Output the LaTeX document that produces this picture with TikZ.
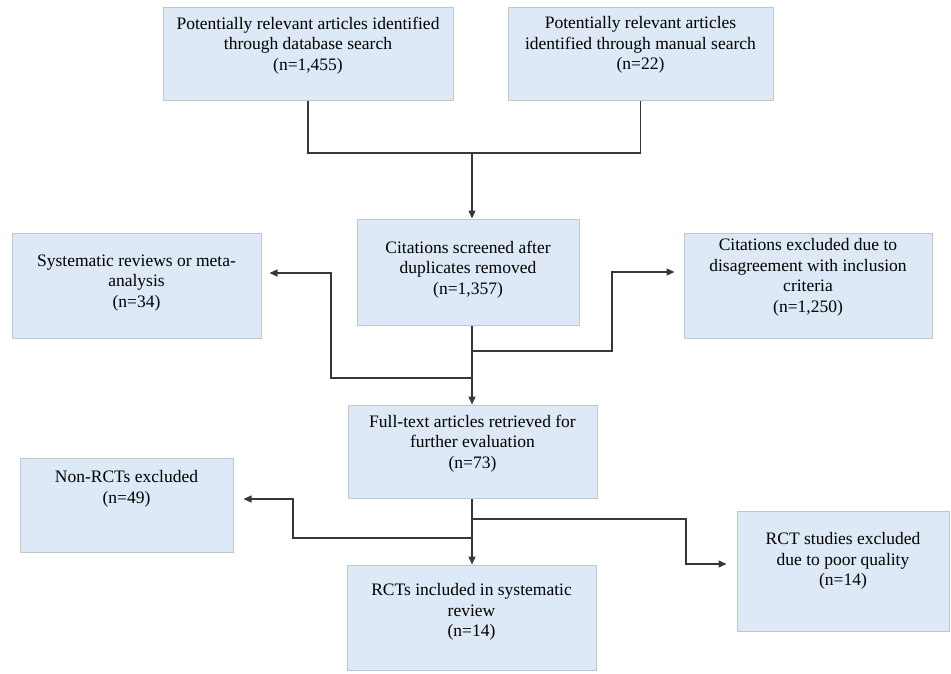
\documentclass[tikz,border=0pt]{standalone}
\usepackage{fontspec}
\setmainfont{Liberation Serif}
\usepackage{xcolor}
\usetikzlibrary{positioning,arrows.meta}
\definecolor{boxblue}{RGB}{221,233,246}
\definecolor{boxline}{RGB}{192,198,206}
\definecolor{flowline}{RGB}{55,55,55}
\begin{document}
\begin{tikzpicture}[x=1pt,y=-1pt,
                    box/.style={draw=boxline,fill=boxblue,line width=1pt,inner sep=0pt},
                    txt/.style={align=center,inner sep=0pt,font=\fontsize{17.5}{20.5}\selectfont},
                    link/.style={draw=flowline,line width=1.3pt},
                    arr/.style={link,-{Triangle[length=8pt,width=7pt]}}]
  \useasboundingbox (0,0) rectangle (951,673);

  \node[box,minimum width=290,minimum height=93] (DbBox) at (308,53.5) {};
  \node[box,minimum width=265,minimum height=93] (ManBox) at (640.5,53.5) {};
  \node[box,minimum width=222,minimum height=106] (ScrBox) at (468,272) {};
  \node[box,minimum width=249,minimum height=105] (SysBox) at (136.5,285.5) {};
  \node[box,minimum width=248,minimum height=105] (ExclBox) at (808,285.5) {};
  \node[box,minimum width=249,minimum height=93] (FullBox) at (472.5,451.5) {};
  \node[box,minimum width=213,minimum height=94] (NonBox) at (126.5,505) {};
  \node[box,minimum width=212,minimum height=120] (PoorBox) at (843,571) {};
  \node[box,minimum width=249,minimum height=105] (InclBox) at (471.5,617.5) {};

  \node[txt,below=10pt of DbBox.north] (DbText) {Potentially relevant articles identified\\through database search\\(n=1,455)};
  \node[txt,below=10pt of ManBox.north] (ManText) {Potentially relevant articles\\identified through manual search\\(n=22)};
  \node[txt,below=22pt of ScrBox.north] (ScrText) {Citations screened after\\duplicates removed\\(n=1,357)};
  \node[txt,below=22pt of SysBox.north] (SysText) {Systematic reviews or meta-\\analysis\\(n=34)};
  \node[txt,below=6pt of ExclBox.north] (ExclText) {Citations excluded due to\\disagreement with inclusion\\criteria\\(n=1,250)};
  \node[txt,below=10pt of FullBox.north] (FullText) {Full-text articles retrieved for\\further evaluation\\(n=73)};
  \node[txt,below=13pt of NonBox.north] (NonText) {Non-RCTs excluded\\(n=49)};
  \node[txt,below=22pt of PoorBox.north] (PoorText) {RCT studies excluded\\due to poor quality\\(n=14)};
  \node[txt,below=19pt of InclBox.north] (InclText) {RCTs included in systematic\\review\\(n=14)};

  \coordinate (J1) at (472,153);
  \coordinate (J2) at (472,351);
  \coordinate (J3) at (472,378);
  \coordinate (J4) at (472,519);
  \coordinate (J5) at (472,538);
  \coordinate (R1) at (612,272);
  \coordinate (L1) at (331,273);
  \coordinate (R2) at (686,564);
  \coordinate (L2) at (293,499);

  \draw[link] (DbBox.south) -- (DbBox.south |- J1) -- (ManBox.south |- J1) -- (ManBox.south);
  \draw[arr] (J1) -- (J1 |- ScrBox.north);

  \draw[arr] (ScrBox.south -| J2) -- (J2 |- FullBox.north);
  \draw[arr,shorten >=9pt] (J2) -| (R1) -- (R1 -| ExclBox.west);
  \draw[arr,shorten >=8pt] (J3) -| (L1) -- (L1 -| SysBox.east);

  \draw[arr] (FullBox.south -| J4) -- (J4 |- InclBox.north);
  \draw[arr,shorten >=10pt] (J4) -| (R2) -- (R2 -| PoorBox.west);
  \draw[arr,shorten >=10pt] (J5) -| (L2) -- (L2 -| NonBox.east);

\end{tikzpicture}
\end{document}
